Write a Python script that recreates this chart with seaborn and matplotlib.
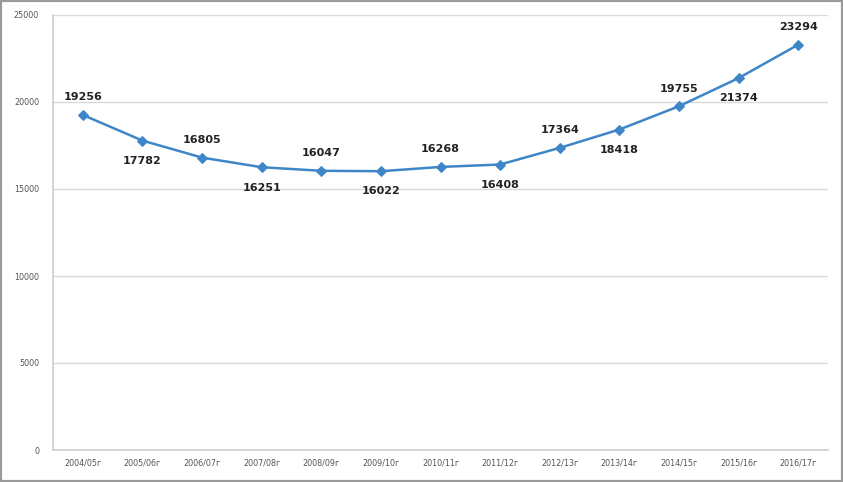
import matplotlib
matplotlib.use("Agg")
import matplotlib.pyplot as plt
import seaborn as sns
import pandas as pd
from matplotlib.patches import Rectangle

years = ["2004/05г", "2005/06г", "2006/07г", "2007/08г", "2008/09г", "2009/10г",
         "2010/11г", "2011/12г", "2012/13г", "2013/14г", "2014/15г", "2015/16г", "2016/17г"]
values = [19256, 17782, 16805, 16251, 16047, 16022, 16268, 16408, 17364, 18418, 19755, 21374, 23294]
y_ticks = [0, 5000, 10000, 15000, 20000, 25000]

sns.set_theme(style="white")
plt.rcParams['font.family'] = ['DejaVu Sans']

df = pd.DataFrame({"year": years, "value": values})
df["pos"] = range(len(df))

fig = plt.figure(figsize=(8.43, 4.82), dpi=100)
ax = fig.add_axes([53/843, 32/482, (828-53)/843, (450-15)/482])

color = "#3f86c8"
sns.lineplot(data=df, x="pos", y="value", ax=ax, color=color, linewidth=1.8,
             marker="D", markersize=5, markeredgecolor=color, markerfacecolor=color)

ax.set_xlim(-0.5, len(years) - 0.5)
ax.set_ylim(0, 25000)
ax.set_yticks(y_ticks)
ax.set_yticklabels([str(t) for t in y_ticks], fontsize=5.8, color="#555555")
ax.set_xticks(range(len(years)))
ax.set_xticklabels(years, fontsize=5.8, color="#555555")
ax.tick_params(axis="x", length=0, pad=6)
ax.tick_params(axis="y", length=0, pad=10)
ax.set_xlabel("")
ax.set_ylabel("")
ax.grid(axis="y", color="#d9d9d9", linewidth=1)
ax.set_axisbelow(True)
for s in ["top", "right"]:
    ax.spines[s].set_visible(False)
ax.spines["left"].set_color("#d0d0d0")
ax.spines["bottom"].set_color("#d0d0d0")

for i, v in enumerate(values):
    if i % 2 == 0:
        ax.annotate(str(v), (i, v), xytext=(0, 9), textcoords="offset points",
                    ha="center", va="bottom", fontsize=8, fontweight="bold", color="#222222")
    else:
        ax.annotate(str(v), (i, v), xytext=(0, -11), textcoords="offset points",
                    ha="center", va="top", fontsize=8, fontweight="bold", color="#222222")

fig.patches.append(Rectangle((0, 0), 1, 1, transform=fig.transFigure, fill=False,
                             edgecolor="#9a9a9a", linewidth=3, zorder=10))

fig.savefig("out.png", dpi=100)
